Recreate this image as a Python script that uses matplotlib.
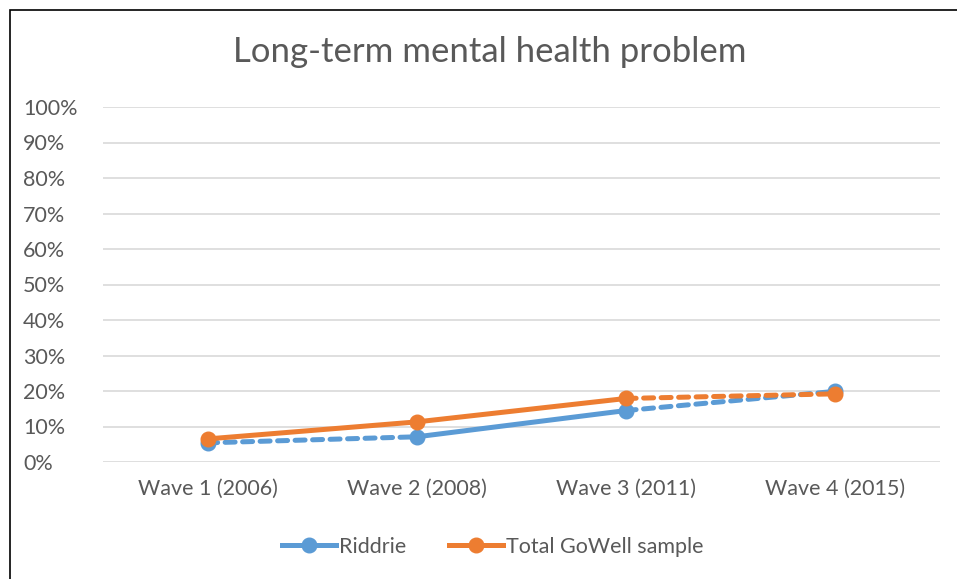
import matplotlib.pyplot as plt
from matplotlib.patches import Rectangle
from matplotlib.lines import Line2D
from matplotlib.ticker import FuncFormatter

waves = ["Wave 1 (2006)", "Wave 2 (2008)", "Wave 3 (2011)", "Wave 4 (2015)"]
riddrie = [0.054, 0.071, 0.145, 0.199]
gowell = [0.065, 0.113, 0.179, 0.192]

# which segments are dashed (segment i joins wave i and wave i+1)
riddrie_dashed = [True, False, True]
gowell_dashed = [False, False, True]

blue = "#5B9BD5"
orange = "#ED7D31"
grey = "#595959"

plt.rcParams['font.family'] = ['Lato', 'DejaVu Sans']

fig = plt.figure(figsize=(9.57, 5.79), dpi=100)
ax = fig.add_axes([103 / 957, 1 - 462 / 579, 837 / 957, 355 / 579])

x = list(range(len(waves)))


def draw_series(vals, dashed, color, z):
    for i in range(len(vals) - 1):
        ls = (0, (2.0, 1.5)) if dashed[i] else '-'
        ax.plot(x[i:i + 2], vals[i:i + 2], color=color, lw=3.6, ls=ls,
                solid_capstyle='round', dash_capstyle='round', zorder=z,
                clip_on=False)
    ax.plot(x, vals, ls='none', marker='o', ms=10.5, color=color, zorder=z + 0.5,
            clip_on=False)


draw_series(riddrie, riddrie_dashed, blue, 3)
draw_series(gowell, gowell_dashed, orange, 4)

ax.set_xlim(-0.5, 3.5)
ax.set_ylim(0, 1)
ax.set_yticks([i / 10 for i in range(11)])
ax.yaxis.set_major_formatter(FuncFormatter(lambda v, p: f"{v:.0%}"))
ax.set_xticks(x)
ax.set_xticklabels(waves)
ax.tick_params(axis='both', length=0, labelsize=15.5, labelcolor=grey)
ax.tick_params(axis='x', pad=12)
ax.tick_params(axis='y', pad=80 * 0.72)
for lab in ax.get_yticklabels():
    lab.set_horizontalalignment('left')
ax.grid(axis='y', color='#D9D9D9', lw=1.2)
ax.set_axisbelow(True)
for s in ax.spines.values():
    s.set_visible(False)

fig.text(490 / 957, 1 - 52 / 579, "Long-term mental health problem",
         ha='center', va='center', fontsize=25, color=grey)

handles = [
    Line2D([], [], color=blue, lw=3.6, marker='o', ms=10.5),
    Line2D([], [], color=orange, lw=3.6, marker='o', ms=10.5),
]
fig.legend(handles, ["Riddrie", "Total GoWell sample"], loc='center',
           bbox_to_anchor=(493 / 957, 1 - 547 / 579), ncol=2, frameon=False,
           fontsize=15.5, labelcolor=grey, handlelength=2.5, handletextpad=0.15,
           columnspacing=2.0)

fig.add_artist(Rectangle((9.5 / 957, -0.05), 1.2, 1 - 9.5 / 579 + 0.05,
                         transform=fig.transFigure, fill=False,
                         edgecolor='black', lw=1.2))

fig.savefig("out.png", dpi=100)
